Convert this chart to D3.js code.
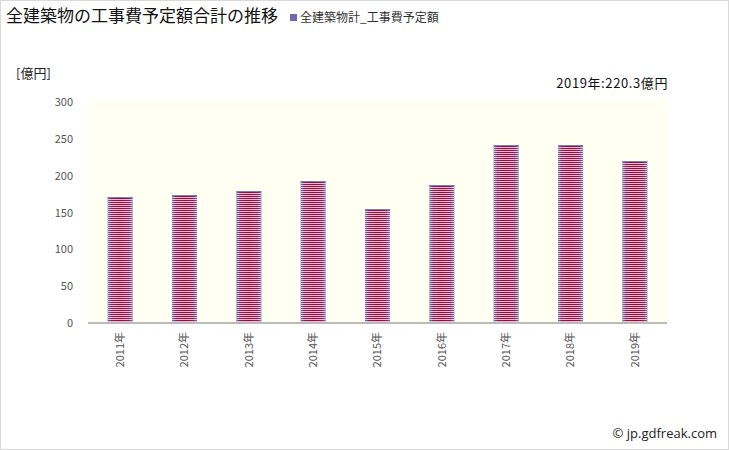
<!DOCTYPE html>
<html><head><meta charset="utf-8">
<script src="https://cdn.jsdelivr.net/npm/d3@7"></script>
<style>body{margin:0;background:#fff}svg{display:block}</style>
</head><body>
<script>
const categories = ["2011年","2012年","2013年","2014年","2015年","2016年","2017年","2018年","2019年"];
const values = [171, 174, 179, 193, 155, 187, 241.5, 241.5, 220.3];
const yTicks = [0, 50, 100, 150, 200, 250, 300];
const titleText = "全建築物の工事費予定額合計の推移";
const legendText = "全建築物計_工事費予定額";
const unitText = "[億円]";
const noteText = "2019年:220.3億円";
const creditText = "© jp.gdfreak.com";

const W = 729, H = 450;
const svg = d3.select("body").append("svg").attr("width", W).attr("height", H);
const jp = "'Noto Sans CJK JP', sans-serif";

svg.append("rect").attr("x",0.5).attr("y",0.5).attr("width",W-1).attr("height",H-1)
  .attr("fill","#fff").attr("stroke","#d9d9d9");

const plot = {l: 88, r: 667, t: 102, b: 323};
const x = d3.scaleBand().domain(categories).range([plot.l, plot.r]).paddingInner(0.61).paddingOuter(0.305);
const y = d3.scaleLinear().domain([0, 300]).range([plot.b, plot.t]);

const defs = svg.append("defs");
const grad = defs.append("linearGradient").attr("id","bg").attr("x1","0").attr("x2","1").attr("y1","0").attr("y2","0");
grad.append("stop").attr("offset","0").attr("stop-color","#6d7cbc");
grad.append("stop").attr("offset","0.15").attr("stop-color","#8a1d58");
grad.append("stop").attr("offset","0.5").attr("stop-color","#9c0538");
grad.append("stop").attr("offset","0.85").attr("stop-color","#8a1d58");
grad.append("stop").attr("offset","1").attr("stop-color","#6d7cbc");
const pat = defs.append("pattern").attr("id","stripes").attr("patternUnits","userSpaceOnUse")
  .attr("width",4).attr("height",2);
pat.append("rect").attr("x",0).attr("y",1).attr("width",4).attr("height",1).attr("fill","#f3d8e6").attr("opacity",0.85);

svg.append("rect").attr("x",plot.l).attr("y",plot.t-2).attr("width",plot.r-plot.l).attr("height",plot.b-plot.t+2)
  .attr("fill","#fffff2");

const bars = svg.append("g");
bars.selectAll("rect.b").data(values).join("rect").attr("class","b")
  .attr("x",(d,i)=>x(categories[i])).attr("width",x.bandwidth())
  .attr("y",d=>Math.round(y(d))).attr("height",d=>plot.b-Math.round(y(d)))
  .attr("fill","url(#bg)");
bars.selectAll("rect.s").data(values).join("rect").attr("class","s")
  .attr("x",(d,i)=>x(categories[i])).attr("width",x.bandwidth())
  .attr("y",d=>Math.round(y(d))).attr("height",d=>plot.b-Math.round(y(d)))
  .attr("fill","url(#stripes)");
bars.selectAll("rect.t").data(values).join("rect").attr("class","t")
  .attr("x",(d,i)=>x(categories[i])).attr("width",x.bandwidth())
  .attr("y",d=>Math.round(y(d))).attr("height",1)
  .attr("fill","#7a7fc0");

// axes
const yAxis = d3.axisLeft(y).tickValues(yTicks).tickSize(0).tickPadding(15);
const gy = svg.append("g").attr("transform",`translate(${plot.l},0)`).call(yAxis);
gy.select(".domain").remove();
gy.selectAll("text").attr("font-family",jp).attr("font-size",11).attr("fill","#555");

const xAxis = d3.axisBottom(x).tickSize(0);
const gx = svg.append("g").attr("transform",`translate(0,${plot.b})`).call(xAxis);
gx.select(".domain").remove();
gx.selectAll("text").attr("font-family",jp).attr("font-size",11).attr("fill","#555")
  .attr("transform","rotate(-90)").attr("text-anchor","end").attr("x",-9).attr("y",0).attr("dy","0.35em");
svg.append("line").attr("x1",plot.l).attr("x2",plot.r).attr("y1",plot.b).attr("y2",plot.b)
  .attr("stroke","#bbb").attr("stroke-width",2);

// texts
svg.append("text").attr("x",6).attr("y",22).attr("font-family",jp).attr("font-size",17).attr("fill","#111").text(titleText);
svg.append("rect").attr("x",290).attr("y",14).attr("width",7).attr("height",7).attr("fill","#6a6ab0");
svg.append("text").attr("x",300).attr("y",22).attr("font-family",jp).attr("font-size",12).attr("fill","#333").text(legendText);
svg.append("text").attr("x",16).attr("y",78).attr("font-family",jp).attr("font-size",13).attr("fill","#222").text(unitText);
svg.append("text").attr("x",668).attr("y",88).attr("text-anchor","end").attr("letter-spacing",0.6).attr("font-family",jp).attr("font-size",13).attr("fill","#111").text(noteText);
svg.append("text").attr("x",717).attr("y",438).attr("text-anchor","end").attr("font-family","'Open Sans', sans-serif").attr("font-size",13).attr("fill","#222").text(creditText);
</script>
</body></html>
